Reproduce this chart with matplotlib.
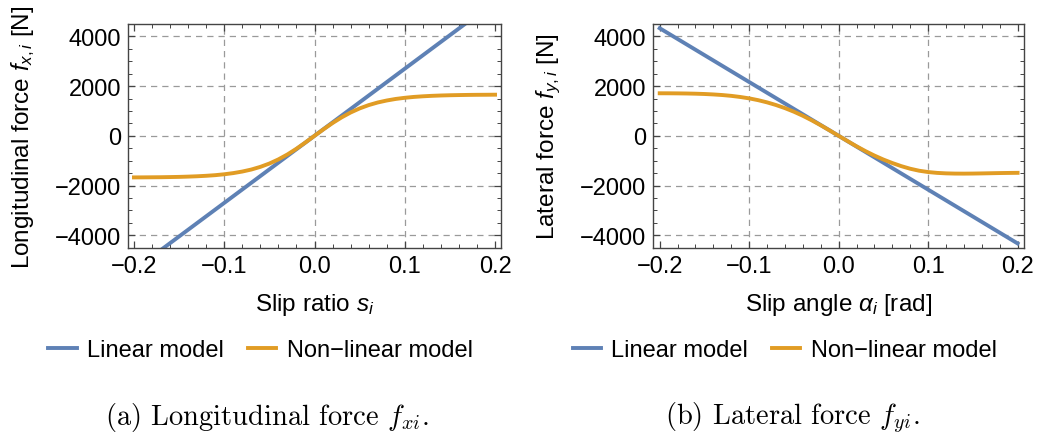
import matplotlib
matplotlib.use("Agg")
import matplotlib.pyplot as plt
from matplotlib.ticker import MultipleLocator, FuncFormatter

# tyre force curves: linear model vs non-linear model
slip = [-0.20, -0.19, -0.18, -0.17, -0.16, -0.15, -0.14, -0.13, -0.12, -0.11,
        -0.10, -0.09, -0.08, -0.07, -0.06, -0.05, -0.04, -0.03, -0.02, -0.01,
        0.00, 0.01, 0.02, 0.03, 0.04, 0.05, 0.06, 0.07, 0.08, 0.09,
        0.10, 0.11, 0.12, 0.13, 0.14, 0.15, 0.16, 0.17, 0.18, 0.19, 0.20]

fx_nonlin = [-1674, -1672, -1669, -1666, -1660, -1653, -1642, -1628, -1609, -1584,
             -1548, -1501, -1438, -1357, -1250, -1116, -949, -750, -520, -266,
             0, 263, 514, 741, 938, 1102, 1236, 1341, 1421, 1484,
             1530, 1565, 1590, 1609, 1623, 1633, 1640, 1646, 1650, 1652, 1655]

fy_nonlin = [1712, 1711, 1708, 1703, 1695, 1683, 1665, 1641, 1608, 1563,
             1507, 1435, 1346, 1239, 1114, 970, 806, 622, 424, 215,
             0, -214, -422, -616, -795, -955, -1095, -1220, -1325, -1405,
             -1458, -1492, -1511, -1520, -1522, -1519, -1513, -1506, -1499, -1494, -1490]

slip_lin = [-0.20, 0.20]
fx_lin = [-5400, 5400]
fy_lin = [4330, -4330]

x_grid = [-0.1, 0.0, 0.1]
y_grid = [-4000, -2000, 0, 2000, 4000]

blue = "#5E81B5"
orange = "#E19C24"

plt.rcParams["font.family"] = ["Liberation Sans", "DejaVu Sans"]
plt.rcParams["mathtext.fontset"] = "custom"
plt.rcParams["mathtext.rm"] = "Liberation Sans"
plt.rcParams["mathtext.it"] = "Liberation Sans:italic"

fig = plt.figure(figsize=(10.45, 4.39), dpi=100)
ax1 = fig.add_axes([128 / 1045, 1 - 249 / 439, 373 / 1045, 224 / 439])
ax2 = fig.add_axes([653 / 1045, 1 - 249 / 439, 371 / 1045, 224 / 439])

xfmt = FuncFormatter(lambda v, p: f"{v:.1f}".replace("-", "\u2212"))
yfmt = FuncFormatter(lambda v, p: f"{v:.0f}".replace("-", "\u2212"))


def style(ax, xlim):
    ax.set_xlim(*xlim)
    ax.set_ylim(-4515, 4500)
    ax.xaxis.set_major_locator(MultipleLocator(0.1))
    ax.xaxis.set_minor_locator(MultipleLocator(0.02))
    ax.yaxis.set_major_locator(MultipleLocator(2000))
    ax.yaxis.set_minor_locator(MultipleLocator(500))
    ax.xaxis.set_major_formatter(xfmt)
    ax.yaxis.set_major_formatter(yfmt)
    ax.tick_params(which="both", direction="in", top=True, right=True,
                   color="#444444", labelsize=17, pad=5)
    ax.tick_params(which="major", length=5, width=0.9)
    ax.tick_params(which="minor", length=2.8, width=0.7)
    for sp in ax.spines.values():
        sp.set_color("#444444")
        sp.set_linewidth(1.0)
    for v in x_grid:
        ax.axvline(v, color="#9a9a9a", lw=0.9, ls=(0, (5, 4)), zorder=0)
    for v in y_grid:
        ax.axhline(v, color="#9a9a9a", lw=0.9, ls=(0, (5, 4)), zorder=0)


style(ax1, (-0.2066, 0.2066))
style(ax2, (-0.2075, 0.2072))

ax1.plot(slip_lin, fx_lin, color=blue, lw=2.8, label="Linear model")
ax1.plot(slip, fx_nonlin, color=orange, lw=2.8, label="Non\u2212linear model")
ax2.plot(slip_lin, fy_lin, color=blue, lw=2.8, label="Linear model")
ax2.plot(slip, fy_nonlin, color=orange, lw=2.8, label="Non\u2212linear model")

ax1.set_xlabel(r"Slip ratio $s_i$", fontsize=17.5)
ax1.set_ylabel(r"Longitudinal force $f_{x,i}$ [N]", fontsize=17.5)
ax2.set_xlabel(r"Slip angle $\alpha_i$ [rad]", fontsize=17.5)
ax2.set_ylabel(r"Lateral force $f_{y,i}$ [N]", fontsize=17.5)
for ax in (ax1, ax2):
    ax.xaxis.set_label_coords(0.5, -0.19)
    ax.yaxis.set_label_coords(-0.243, 0.5)
    ax.legend(loc="center", bbox_to_anchor=(0.355, -0.455), ncol=2,
              frameon=False, fontsize=17, handlelength=1.2,
              handletextpad=0.45, columnspacing=1.0)

fig.text(267 / 1045, 1 - 418 / 439, r"(a) Longitudinal force $f_{xi}$.",
         family="cmr10", math_fontfamily="cm", fontsize=20.5,
         ha="center", va="center")
fig.text(792 / 1045, 1 - 418 / 439, r"(b) Lateral force $f_{yi}$.",
         family="cmr10", math_fontfamily="cm", fontsize=20.5,
         ha="center", va="center")

fig.savefig("out.png", dpi=100)
